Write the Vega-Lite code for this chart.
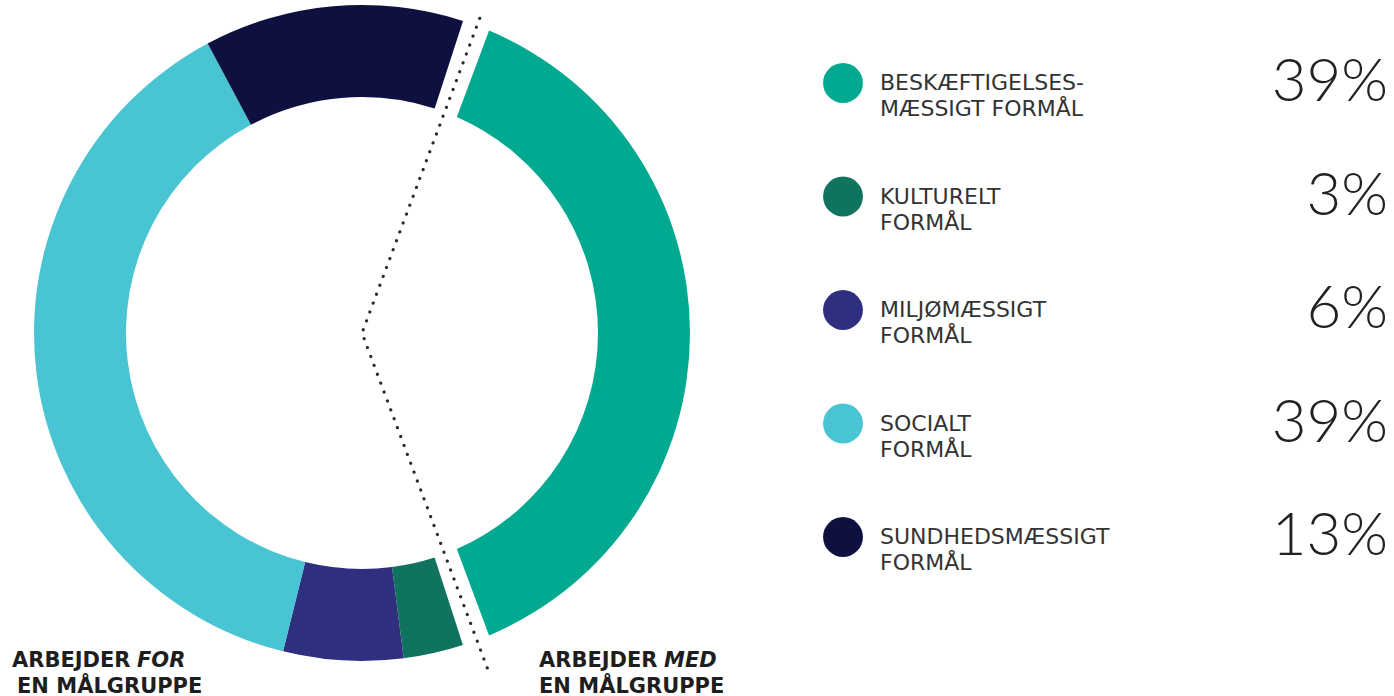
{
  "$schema": "https://vega.github.io/schema/vega-lite/v6.json",
  "padding": 0,
  "background": "white",
  "spacing": 0,
  "config": {"view": {"stroke": null}},
  "datasets": {
    "formaal": [
      {"key": "Beskæftigelsesmæssigt formål", "label": "BESKÆFTIGELSES-\nMÆSSIGT FORMÅL", "share": 0.39, "order": 1, "side": "med"},
      {"key": "Kulturelt formål", "label": "KULTURELT\nFORMÅL", "share": 0.03, "order": 2, "side": "for"},
      {"key": "Miljømæssigt formål", "label": "MILJØMÆSSIGT\nFORMÅL", "share": 0.06, "order": 3, "side": "for"},
      {"key": "Socialt formål", "label": "SOCIALT\nFORMÅL", "share": 0.39, "order": 4, "side": "for"},
      {"key": "Sundhedsmæssigt formål", "label": "SUNDHEDSMÆSSIGT\nFORMÅL", "share": 0.13, "order": 5, "side": "for"}
    ],
    "skillelinje": [
      {"x": 117.7, "y": 314.7, "i": 1},
      {"x": 0, "y": 0, "i": 2},
      {"x": 126.8, "y": -339.1, "i": 3}
    ],
    "maalgruppe": [
      {"gruppe": "for", "line1": "ARBEJDER", "kursiv": "FOR", "line2": "EN MÅLGRUPPE"},
      {"gruppe": "med", "line1": "ARBEJDER", "kursiv": "MED", "line2": "EN MÅLGRUPPE"}
    ]
  },
  "hconcat": [
    {
      "width": 780,
      "height": 696,
      "layer": [
        {
          "data": {"name": "formaal"},
          "transform": [{"filter": "datum.side == 'med'"}],
          "mark": {"type": "arc", "outerRadius": 328, "innerRadius": 236, "padAngle": 0.065},
          "encoding": {
            "x": {"datum": 0, "type": "quantitative", "scale": {"domain": [-362, 418], "nice": false, "zero": false}, "axis": null},
            "y": {"datum": 0, "type": "quantitative", "scale": {"domain": [-363, 333], "nice": false, "zero": false}, "axis": null},
            "theta": {"field": "share", "type": "quantitative", "stack": true, "scale": {"range": [0.3578, 2.7838]}},
            "order": {"field": "order", "type": "quantitative"},
            "color": {"field": "key", "type": "nominal", "legend": null,
              "scale": {"domain": ["Beskæftigelsesmæssigt formål", "Kulturelt formål", "Miljømæssigt formål", "Socialt formål", "Sundhedsmæssigt formål"],
                        "range": ["#00A98F", "#10735F", "#2E2F7E", "#48C4D3", "#0E1140"]}}
          }
        },
        {
          "data": {"name": "formaal"},
          "transform": [{"filter": "datum.side == 'for'"}],
          "mark": {"type": "arc", "outerRadius": 328, "innerRadius": 236},
          "encoding": {
            "x": {"datum": 0, "type": "quantitative", "axis": null},
            "y": {"datum": 0, "type": "quantitative", "axis": null},
            "theta": {"field": "share", "type": "quantitative", "stack": true, "scale": {"range": [2.8288, 6.5962]}},
            "order": {"field": "order", "type": "quantitative"},
            "color": {"field": "key", "type": "nominal", "legend": null}
          }
        },
        {
          "data": {"name": "skillelinje"},
          "mark": {"type": "line", "stroke": "#2b2b2b", "strokeWidth": 3.2, "strokeCap": "round", "strokeJoin": "round", "strokeDash": [0.1, 9.4]},
          "encoding": {
            "x": {"field": "x", "type": "quantitative", "axis": null},
            "y": {"field": "y", "type": "quantitative", "axis": null},
            "order": {"field": "i", "type": "quantitative"}
          }
        },
        {
          "data": {"name": "maalgruppe"},
          "transform": [{"filter": "datum.gruppe == 'for'"}],
          "layer": [
            {
              "mark": {"type": "text", "align": "left", "baseline": "alphabetic", "font": "DejaVu Sans", "fontWeight": "bold", "fontSize": 21, "fill": "#1e1e1e"},
              "encoding": {"x": {"datum": -350, "type": "quantitative"}, "y": {"datum": -334, "type": "quantitative"}, "text": {"field": "line1"}}
            },
            {
              "mark": {"type": "text", "align": "left", "baseline": "alphabetic", "font": "DejaVu Sans", "fontWeight": "bold", "fontStyle": "italic", "fontSize": 21, "fill": "#1e1e1e"},
              "encoding": {"x": {"datum": -225, "type": "quantitative"}, "y": {"datum": -334, "type": "quantitative"}, "text": {"field": "kursiv"}}
            },
            {
              "mark": {"type": "text", "align": "left", "baseline": "alphabetic", "font": "DejaVu Sans", "fontWeight": "bold", "fontSize": 21, "fill": "#1e1e1e"},
              "encoding": {"x": {"datum": -345, "type": "quantitative"}, "y": {"datum": -360, "type": "quantitative"}, "text": {"field": "line2"}}
            }
          ]
        },
        {
          "data": {"name": "maalgruppe"},
          "transform": [{"filter": "datum.gruppe == 'med'"}],
          "layer": [
            {
              "mark": {"type": "text", "align": "left", "baseline": "alphabetic", "font": "DejaVu Sans", "fontWeight": "bold", "fontSize": 21, "fill": "#1e1e1e"},
              "encoding": {"x": {"datum": 177, "type": "quantitative"}, "y": {"datum": -334, "type": "quantitative"}, "text": {"field": "line1"}}
            },
            {
              "mark": {"type": "text", "align": "left", "baseline": "alphabetic", "font": "DejaVu Sans", "fontWeight": "bold", "fontStyle": "italic", "fontSize": 21, "fill": "#1e1e1e"},
              "encoding": {"x": {"datum": 302, "type": "quantitative"}, "y": {"datum": -334, "type": "quantitative"}, "text": {"field": "kursiv"}}
            },
            {
              "mark": {"type": "text", "align": "left", "baseline": "alphabetic", "font": "DejaVu Sans", "fontWeight": "bold", "fontSize": 21, "fill": "#1e1e1e"},
              "encoding": {"x": {"datum": 177, "type": "quantitative"}, "y": {"datum": -360, "type": "quantitative"}, "text": {"field": "line2"}}
            }
          ]
        }
      ],
      "resolve": {"scale": {"theta": "independent"}}
    },
    {
      "width": 614,
      "height": 696,
      "data": {"name": "formaal"},
      "encoding": {
        "y": {"field": "key", "type": "nominal", "axis": null,
          "sort": ["Beskæftigelsesmæssigt formål", "Kulturelt formål", "Miljømæssigt formål", "Socialt formål", "Sundhedsmæssigt formål"],
          "scale": {"type": "point", "range": [83, 537], "padding": 0}}
      },
      "layer": [
        {
          "mark": {"type": "point", "filled": true, "shape": "circle", "size": 1590, "opacity": 1},
          "encoding": {
            "x": {"datum": 63, "type": "quantitative", "scale": {"domain": [0, 614], "nice": false, "zero": false}, "axis": null},
            "color": {"field": "key", "type": "nominal", "legend": null}
          }
        },
        {
          "mark": {"type": "text", "align": "left", "baseline": "middle", "font": "DejaVu Sans", "fontSize": 22, "lineBreak": "\n", "lineHeight": 26, "fill": "#333333"},
          "encoding": {
            "x": {"datum": 100, "type": "quantitative"},
            "text": {"field": "label", "type": "nominal"}
          }
        },
        {
          "mark": {"type": "text", "align": "right", "baseline": "middle", "font": "Lato", "fontWeight": 300, "fontSize": 60, "fill": "#222222"},
          "encoding": {
            "x": {"datum": 608, "type": "quantitative"},
            "text": {"field": "share", "type": "quantitative", "format": ".0%"}
          }
        }
      ]
    }
  ]
}
